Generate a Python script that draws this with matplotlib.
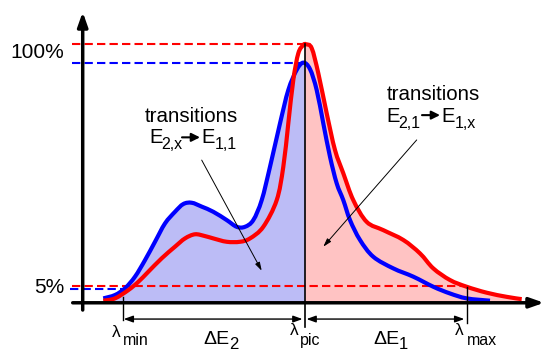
import numpy as np
import matplotlib
matplotlib.use('Agg')
import matplotlib.pyplot as plt
from matplotlib.patches import Rectangle, PathPatch
from matplotlib.path import Path

plt.rcParams['font.family'] = ['Liberation Sans', 'DejaVu Sans']

# emission spectra (x: wavelength, arbitrary units; y: intensity in % of red peak)
blue_x = [103.3, 115, 125, 135, 145, 155, 165, 175, 183.3, 191.7, 201.7, 213.3,
          226.7, 236.7, 245, 253.3, 261.7, 270, 280, 288.3, 296.7, 303.3, 310,
          316.7, 323.3, 330, 336.7, 343.3, 350, 360, 373.3, 393.3, 413.3, 433.3,
          450, 466.7, 490]
blue_y = [1.7, 3.0, 5.6, 10.1, 16.5, 23.6, 30.7, 35.2, 38.2, 38.7, 37.2, 35.2,
          32.0, 29.4, 29.4, 32.0, 39.7, 52.6, 69.4, 82.3, 90.1, 92.9, 90.4,
          82.3, 69.4, 56.5, 46.2, 39.7, 32.0, 24.3, 17.8, 13.3, 10.1, 6.2,
          3.6, 1.7, 0.8]

red_x = [103.3, 115, 128.3, 138.3, 148.3, 161.7, 175, 185, 195, 205, 213.3, 226.7,
         240, 250, 263.3, 276.7, 283.3, 288.3, 293.3, 298.3, 303.3, 306, 311.7,
         318.3, 326.7, 335, 343.3, 353.3, 366.7, 383.3, 403.3, 420, 433.3, 450,
         466.7, 486.7, 506.7, 521.7]
red_y = [0.8, 1.7, 4.9, 8.1, 12.0, 17.2, 21.7, 24.9, 26.5, 25.8, 24.9, 23.6,
         23.6, 24.9, 29.4, 39.7, 52.6, 69.4, 86.2, 96.5, 99.7, 100, 98.5,
         88.8, 73.3, 59.1, 50.1, 39.7, 31.3, 28.1, 24.3, 19.1, 13.3, 8.8,
         6.2, 3.9, 2.3, 1.4]

# characteristic wavelengths and levels
lam_min, lam_pic, lam_max = 122.7, 304.5, 467.3
peak_red, peak_blue = 100, 92.9
low_red, low_blue = 6.6, 5.2


def smooth_path(x, y, close=False):
    # Catmull-Rom through the read points, drawn as cubic Bezier segments
    p = np.column_stack([x, y]).astype(float)
    ext = np.vstack([p[0], p, p[-1]])
    verts = [p[0]]
    codes = [Path.MOVETO]
    for i in range(len(p) - 1):
        p0, p1, p2, p3 = ext[i], ext[i + 1], ext[i + 2], ext[i + 3]
        verts += [p1 + (p2 - p0) / 6, p2 - (p3 - p1) / 6, p2]
        codes += [Path.CURVE4] * 3
    if close:
        verts += [(x[-1], 0), (x[0], 0), (x[0], 0)]
        codes += [Path.LINETO, Path.LINETO, Path.CLOSEPOLY]
    return Path(verts, codes)


fig = plt.figure(figsize=(5.44, 3.53), dpi=100)
ax = fig.add_axes([0, 0, 1, 1])
ax.set_xlim(0, 544)
ax.set_ylim(-19.43, 117.14)
ax.axis('off')

# filled areas: blue left of the peak, red right of it
fb = ax.add_patch(PathPatch(smooth_path(blue_x, blue_y, True), fc='#bcbcf6', lw=0, zorder=1))
fb.set_clip_path(Rectangle((0, -5), lam_pic, 130, transform=ax.transData))
fr = ax.add_patch(PathPatch(smooth_path(red_x, red_y, True), fc='#ffc3c3', lw=0, zorder=1))
fr.set_clip_path(Rectangle((lam_pic, -5), 300, 130, transform=ax.transData))

# dashed reference levels
dash = dict(lw=1.5, dashes=(4, 2), zorder=2)
ax.plot([72, lam_pic + 1.5], [peak_red] * 2, color='red', **dash)
ax.plot([72, 302], [peak_blue] * 2, color='blue', **dash)
ax.plot([72, 463], [low_red] * 2, color='red', **dash)
ax.plot([70, 125], [low_blue] * 2, color='blue', **dash)

# vertical markers
ax.plot([lam_pic] * 2, [-9.4, peak_red], color='k', lw=1.2, zorder=4)
ax.plot([lam_min] * 2, [-6.7, 2.2], color='k', lw=1.0, zorder=4)
ax.plot([lam_max] * 2, [-7.9, 6.1], color='k', lw=1.0, zorder=4)

# spectra
ax.add_patch(PathPatch(smooth_path(blue_x, blue_y), fc='none', ec='blue', lw=3,
                       capstyle='butt', zorder=3))
ax.add_patch(PathPatch(smooth_path(red_x, red_y), fc='none', ec='red', lw=3,
                       capstyle='butt', zorder=3))

# axes with arrows
axis_arrow = dict(arrowstyle='-|>,head_length=0.85,head_width=0.3', color='k',
                  lw=2.5, shrinkA=0, shrinkB=0)
ax.annotate('', xy=(82.7, 112.5), xytext=(82.7, -2.8), arrowprops=axis_arrow, zorder=5)
ax.annotate('', xy=(544, 0), xytext=(72.7, 0), arrowprops=axis_arrow, zorder=5)

# double arrows for the energy ranges
dbl = dict(arrowstyle='<|-|>,head_length=0.55,head_width=0.2', color='k', lw=1,
           shrinkA=0, shrinkB=0)
ax.annotate('', xy=(lam_min + 1, -6.3), xytext=(lam_pic - 2, -6.3), arrowprops=dbl)
ax.annotate('', xy=(lam_pic + 2, -6.3), xytext=(lam_max - 3, -6.3), arrowprops=dbl)

# y labels
ax.text(64, 96.7, '100%', fontsize=15, ha='right', va='center')
ax.text(64, 6.0, '5%', fontsize=15, ha='right', va='center')


def sub_label(x, y, main, xs, ys, sub, size=12.5, ssize=11.5):
    ax.text(x, y, main, fontsize=size, va='baseline')
    ax.text(xs, ys, sub, fontsize=ssize, va='baseline')


sub_label(111.7, -13.2, 'λ', 123, -16.4, 'min')
sub_label(290, -12.5, 'λ', 300, -16.4, 'pic')
sub_label(455, -12.5, 'λ', 466.7, -16.4, 'max')
sub_label(203, -15.8, 'ΔE', 229, -17.9, '2', size=14, ssize=12)
sub_label(373, -15.8, 'ΔE', 399, -17.9, '1', size=14, ssize=12)

# transition annotations
small_arrow = dict(arrowstyle='-|>,head_length=0.5,head_width=0.25', color='k',
                   lw=1.5, shrinkA=0, shrinkB=0)
thin_arrow = dict(arrowstyle='-|>,head_length=0.5,head_width=0.15', color='k',
                  lw=0.7, shrinkA=0, shrinkB=0)

ax.text(145, 70.0, 'transitions', fontsize=14.8, va='baseline')
sub_label(149.3, 61.7, 'E', 161.7, 59.6, '2,x', size=14.5, ssize=11.5)
ax.annotate('', xy=(200, 64.0), xytext=(182, 64.0), arrowprops=small_arrow)
sub_label(201.7, 61.7, 'E', 215, 59.6, '1,1', size=14.5, ssize=11.5)
ax.annotate('', xy=(261.7, 12.4), xytext=(201.7, 55.2), arrowprops=thin_arrow)

ax.text(386.7, 78.4, 'transitions', fontsize=14.8, va='baseline')
sub_label(386.7, 70.0, 'E', 398, 67.6, '2,1', size=14.5, ssize=11.5)
ax.annotate('', xy=(440, 72.6), xytext=(422, 72.6), arrowprops=small_arrow)
sub_label(441.7, 70.0, 'E', 455, 67.6, '1,x', size=14.5, ssize=11.5)
ax.annotate('', xy=(323.3, 21.7), xytext=(416.7, 63.0), arrowprops=thin_arrow)

fig.savefig('out.png', dpi=100)
